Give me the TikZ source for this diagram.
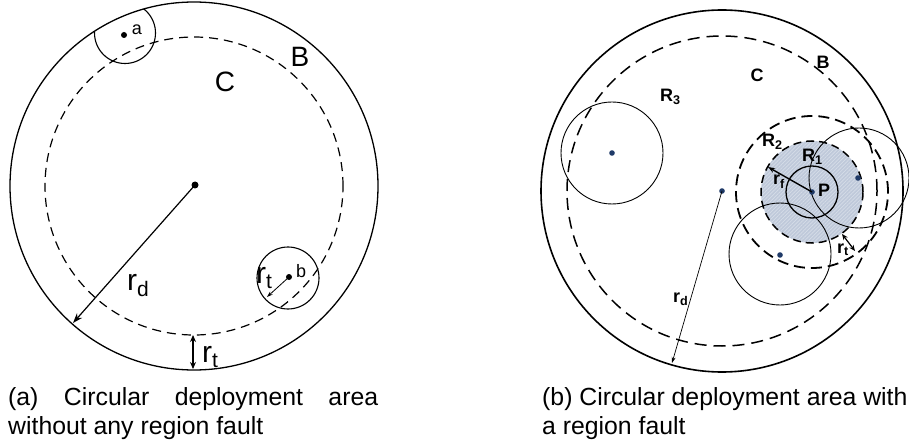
\documentclass[tikz,border=0pt]{standalone}
\usepackage{fontspec}
\setmainfont{Liberation Sans}
\usetikzlibrary{arrows.meta,patterns.meta}
\definecolor{dotblue}{HTML}{1F3A68}
\definecolor{shadefill}{HTML}{BFC9DA}
\definecolor{hatchcol}{HTML}{D6DDE8}
\tikzset{
  lblbig/.style={inner sep=0pt,font=\fontsize{28}{28}\selectfont},
  lblr/.style={inner sep=0pt,anchor=base west,font=\fontsize{30}{30}\selectfont},
  lblsmall/.style={inner sep=0pt,font=\fontsize{18}{18}\selectfont},
  lblbold/.style={inner sep=0pt,font=\bfseries\fontsize{18}{18}\selectfont},
  lblboldw/.style={inner sep=0pt,anchor=base west,font=\bfseries\fontsize{18}{18}\selectfont},
  captxt/.style={inner sep=0pt,anchor=base west,font=\fontsize{24.8}{24.8}\selectfont},
  outerA/.style={line width=1.3pt},
  dashA/.style={line width=1.2pt,dash pattern=on 9pt off 6pt},
  outerB/.style={line width=1.6pt},
  dashB/.style={line width=1.5pt,dash pattern=on 12pt off 7pt},
  dashBB/.style={line width=1.8pt,dash pattern=on 11pt off 6pt},
  sensor/.style={line width=0.9pt},
  dotA/.style={fill=black},
  dotB/.style={fill=dotblue},
}
\begin{document}
\begin{tikzpicture}[x=1pt,y=-1pt]
\useasboundingbox (0,0) rectangle (909,446);
% ---------------- (a) ----------------
\coordinate (cA) at (194,186);
\coordinate (ctrA) at (195,185);
\draw[outerA] (cA) circle[radius=184pt];
\draw[dashA] (cA) circle[radius=149pt];
\begin{scope}
  \clip (cA) circle[radius=184pt];
  \draw[line width=1.1pt] (125,33) circle[radius=30.5pt];
\end{scope}
\coordinate (sa) at (124,35);
\coordinate (sb) at (289,277);
\draw[line width=1.1pt] (288,278) circle[radius=31pt];
\fill[dotA] (ctrA) circle[radius=3.5pt];
\fill[dotA] (sa) circle[radius=3pt];
\fill[dotA] (sb) circle[radius=3pt];
\coordinate (rdA) at (73,323);
\draw[line width=1.2pt,-{Stealth[length=10pt,width=7pt]}] (ctrA) -- (rdA);
\coordinate (rtbA) at (267,297);
\draw[line width=0.8pt,-{Stealth[length=6pt,width=4pt]}] (sb) -- (rtbA);
\coordinate (rtA1) at (193,335);
\coordinate (rtA2) at (193,369);
\draw[line width=1.1pt,{Stealth[length=7pt,width=6pt]}-{Stealth[length=7pt,width=6pt]}] (rtA1) -- (rtA2);
\node[lblbig] (labCa) at (225,82) {C};
\node[lblbig] (labBa) at (300,57) {B};
\node[lblsmall] (laba) at (137,30) {a};
\node[lblsmall] (labb) at (301,271) {b};
\node[lblr] (labrdA) at (127,290) {r\textsubscript{d}};
\node[lblr] (labrtA) at (202,362) {r\textsubscript{t}};
\node[lblr] (labrtb) at (256,283) {r\textsubscript{t}};
% ---------------- (b) ----------------
\coordinate (cB) at (722,191);
\coordinate (P) at (812,192);
\fill[shadefill] (P) circle[radius=51pt];
\fill[pattern={Lines[angle=45,distance=2.6pt,line width=0.7pt]},pattern color=hatchcol] (P) circle[radius=51pt];
\draw[line width=1.5pt,dash pattern=on 8pt off 5pt] (P) circle[radius=51pt];
\draw[outerB] (cB) circle[radius=181pt];
\draw[dashB] (cB) circle[radius=155pt];
\draw[dashBB] (P) circle[radius=76pt];
\draw[line width=1.3pt] (P) circle[radius=26pt];
\coordinate (s3) at (612,153);
\coordinate (s4) at (858,178);
\coordinate (s5) at (780,255);
\draw[sensor] (s3) circle[radius=51pt];
\draw[sensor] (859,178) circle[radius=50pt];
\draw[sensor] (780,254) circle[radius=51pt];
\fill[dotB] (cB) circle[radius=2.8pt];
\fill[dotB] (P) circle[radius=2.8pt];
\fill[dotB] (s3) circle[radius=2.8pt];
\fill[dotB] (s4) circle[radius=2.8pt];
\fill[dotB] (s5) circle[radius=2.8pt];
\coordinate (rdB) at (672,363);
\draw[line width=0.7pt,-{Stealth[length=6pt,width=4pt]}] (cB) -- (rdB);
\coordinate (rfB) at (768,167);
\draw[line width=1.4pt,-{Stealth[length=7pt,width=5pt]}] (P) -- (rfB);
\coordinate (rtB1) at (842,234);
\coordinate (rtB2) at (855,251);
\draw[line width=1.2pt,{Stealth[length=6pt,width=5pt]}-{Stealth[length=6pt,width=5pt]}] (rtB1) -- (rtB2);
\node[lblbold] (labCb) at (757,75) {C};
\node[lblbold] (labBb) at (823,62) {B};
\node[lblboldw] (labR3) at (660,102) {R\textsubscript{3}};
\node[lblboldw] (labR2) at (762,147) {R\textsubscript{2}};
\node[lblboldw] (labR1) at (802,162) {R\textsubscript{1}};
\node[lblboldw] (labP) at (818,197) {P};
\node[lblboldw] (labrf) at (773,185) {r\textsubscript{f}};
\node[lblboldw] (labrtB) at (837,253) {r\textsubscript{t}};
\node[lblboldw] (labrdB) at (673,302) {r\textsubscript{d}};
% ---------------- captions ----------------
\node[captxt] (capa1) at (8,405) {\makebox[370pt][s]{(a) Circular deployment area}};
\node[captxt] (capa2) at (8,434) {without any region fault};
\node[captxt] (capb1) at (542,405) {(b) Circular deployment area with};
\node[captxt] (capb2) at (542,434) {a region fault};
\end{tikzpicture}
\end{document}
